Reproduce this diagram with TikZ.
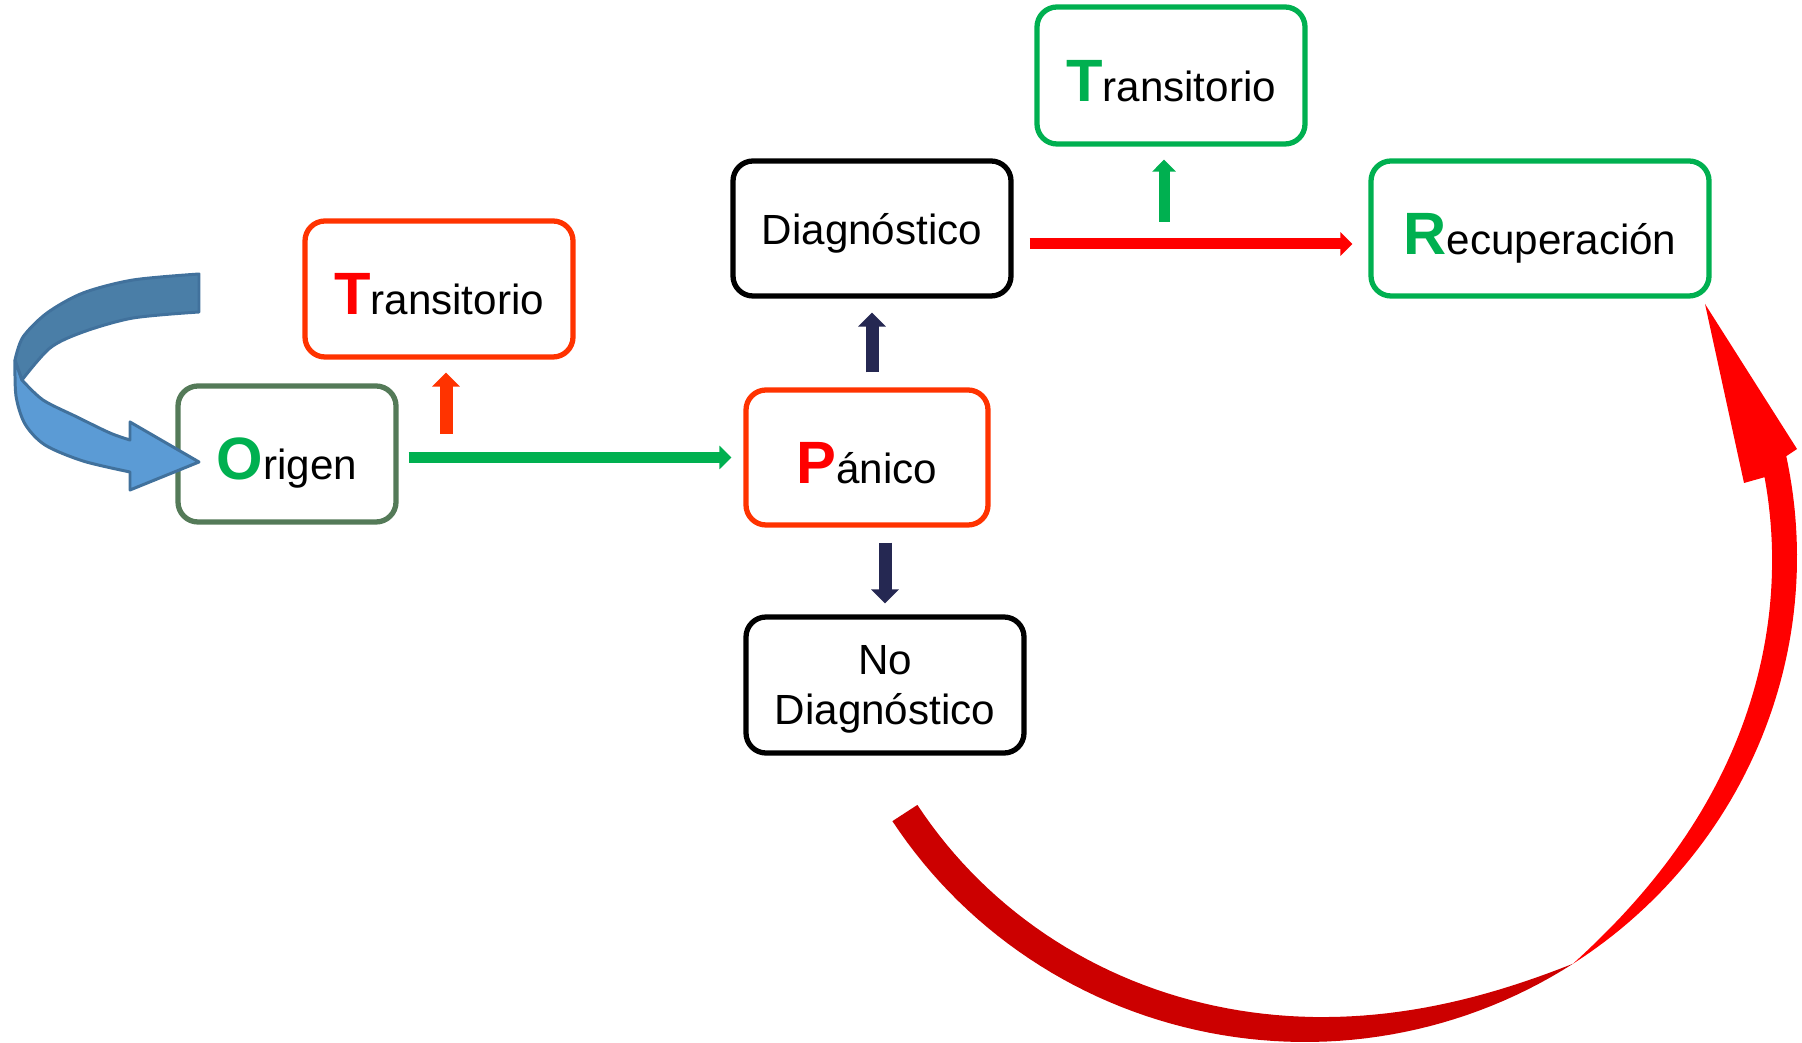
\documentclass[tikz,border=0pt]{standalone}
\usepackage{fontspec}
\setmainfont{Liberation Sans}
\usetikzlibrary{arrows.meta,calc}
\newcommand{\myunit}{0.2 cm}
\definecolor{verde}{RGB}{0,176,80}
\definecolor{verdegris}{RGB}{84,122,88}
\definecolor{naranja}{RGB}{255,51,0}
\definecolor{rojo}{RGB}{255,0,0}
\definecolor{rojooscuro}{RGB}{204,0,0}
\definecolor{marino}{RGB}{37,40,82}
\definecolor{azul}{RGB}{91,155,213}
\definecolor{azuloscuro}{RGB}{74,126,167}
\definecolor{azulborde}{RGB}{65,113,156}
\newcommand{\inicial}[2]{\rule{0pt}{0.52cm}{\fontsize{17}{17}\selectfont\bfseries\color{#1}#2}}
\tikzset{
    node style box/.style={draw,rounded corners=\myunit,line width=1.5pt,align=center,inner sep=0pt,text depth=0pt,font=\fontsize{12}{14}\selectfont},
    arrow style fino/.style={line width=0.11cm,-{Triangle[width=0.23cm,length=0.12cm]}},
    arrow style grueso/.style={line width=0.13cm,-{Triangle[width=0.27cm,length=0.14cm]}},
    curva style/.style={draw=azulborde,line width=0.85pt,line join=round},
}

\begin{document}
\begin{tikzpicture}[>=latex]
   \useasboundingbox (0,0) rectangle (18.02,-10.43);

   % cajas
   \node[node style box,draw=verdegris,minimum width=2.18cm,minimum height=1.36cm] (origen) at (2.87,-4.54) {\inicial{verde}{O}rigen};
   \node[node style box,draw=naranja,minimum width=2.68cm,minimum height=1.36cm] (trans1) at (4.39,-2.89) {\inicial{rojo}{T}ransitorio};
   \node[node style box,draw=black,minimum width=2.78cm,minimum height=1.35cm] (diag) at (8.72,-2.285) {Diagnóstico};
   \node[node style box,draw=naranja,minimum width=2.42cm,minimum height=1.35cm] (panico) at (8.67,-4.575) {\inicial{rojo}{P}ánico};
   \node[node style box,draw=black,minimum width=2.78cm,minimum height=1.36cm] (nodiag) at (8.85,-6.85) {No\\Diagnóstico};
   \node[node style box,draw=verde,minimum width=2.68cm,minimum height=1.37cm] (trans2) at (11.71,-0.755) {\inicial{verde}{T}ransitorio};
   \node[node style box,draw=verde,minimum width=3.38cm,minimum height=1.35cm] (recup) at (15.40,-2.285) {\inicial{verde}{R}ecuperación};

   % flechas
   \coordinate (sube1) at (4.46,-4.34);
   \coordinate (sube2) at (11.64,-2.22);
   \draw[arrow style fino,verde,shorten <=0.1cm,shorten >=0.12cm] (origen.east |- panico.west) -- (panico.west);
   \draw[arrow style fino,rojo,shorten <=0.16cm,shorten >=0.16cm] ([yshift=-0.155cm]diag.east) -- ([yshift=-0.155cm]recup.west);
   \draw[arrow style grueso,marino,shorten <=0.15cm,shorten >=0.14cm] (diag.south |- panico.north) -- (diag.south);
   \draw[arrow style grueso,marino,shorten <=0.15cm,shorten >=0.11cm] (nodiag.north |- panico.south) -- (nodiag.north);
   \draw[arrow style grueso,naranja,shorten >=0.13cm] (sube1) -- (sube1 |- trans1.south);
   \draw[arrow style fino,verde,shorten >=0.13cm] (sube2) -- (sube2 |- trans2.south);

   % flecha curva azul
   \filldraw[curva style,fill=azul] plot[smooth] coordinates {(0.15,-3.60) (0.16,-3.96) (0.25,-4.24) (0.45,-4.45) (0.83,-4.61) (1.30,-4.72)}
      -- (1.30,-4.90) -- (1.99,-4.62) -- (1.30,-4.22)
      -- plot[smooth] coordinates {(1.30,-4.40) (1.10,-4.33) (0.77,-4.17) (0.43,-4.00) (0.22,-3.80)} -- cycle;
   \filldraw[curva style,fill=azuloscuro] plot[smooth] coordinates {(1.99,-2.74) (1.33,-2.80) (0.83,-2.93) (0.47,-3.13) (0.23,-3.37) (0.15,-3.60)}
      -- plot[smooth] coordinates {(0.22,-3.80) (0.50,-3.48) (0.83,-3.32) (1.33,-3.18) (1.99,-3.12)} -- cycle;

   % flecha curva roja
   \fill[rojooscuro] plot[domain=-147:-57,samples=60] ({13.05+4.92*cos(\x)},{-5.57+4.85*sin(\x)})
      -- plot[domain=-57:-147,samples=60] ({13.05+(4.92-0.30*(1-exp((\x+57)/18)))*cos(\x)},{-5.57+(4.85-0.30*(1-exp((\x+57)/18)))*sin(\x)}) -- cycle;
   \fill[rojo] plot[domain=-57:12,samples=60] ({13.05+4.92*cos(\x)},{-5.57+4.85*sin(\x)})
      -- (17.97,-4.49) -- (17.05,-3.04) -- (17.44,-4.83)
      -- plot[domain=10:-57,samples=60] ({13.05+(4.92-0.26*(1-exp(-(\x+57)/18)))*cos(\x)},{-5.57+(4.85-0.26*(1-exp(-(\x+57)/18)))*sin(\x)}) -- cycle;
\end{tikzpicture}
\end{document}
